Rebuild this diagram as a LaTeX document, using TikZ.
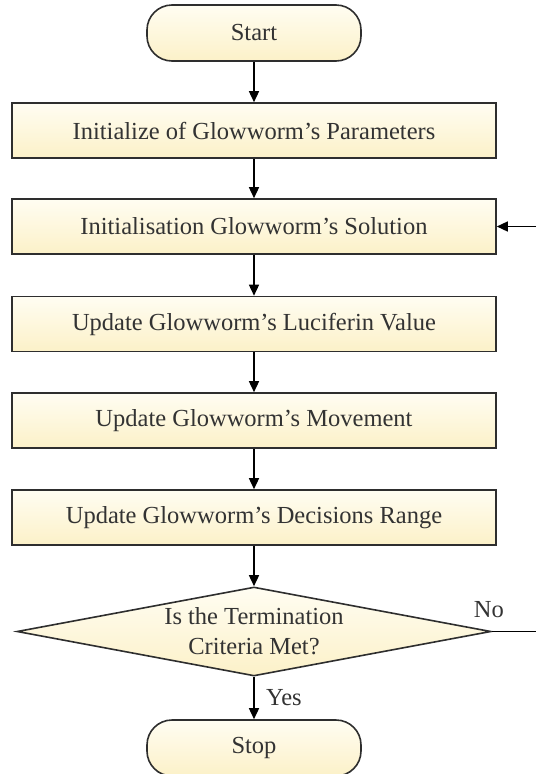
\documentclass[tikz,border=0pt]{standalone}
\usepackage{fontspec}
\setmainfont{Liberation Serif}
\usetikzlibrary{shapes.geometric,arrows.meta}

\definecolor{boxtop}{HTML}{FFFDF2}
\definecolor{boxbot}{HTML}{FCF1C8}
\definecolor{edge}{HTML}{2E2E2E}
\definecolor{ink}{HTML}{333333}

\tikzset{
  every node/.style={font=\fontsize{24.5}{30}\selectfont, text=ink},
  stepbox/.style={draw=edge, line width=1.6pt, top color=boxtop, bottom color=boxbot,
    minimum width=484pt, minimum height=55pt, inner sep=0pt},
  term/.style={stepbox, rounded corners=25pt, minimum width=214pt, minimum height=56pt},
  decide/.style={diamond, draw=edge, line width=1.6pt, top color=boxtop, bottom color=boxbot,
    minimum width=474pt, minimum height=89pt, inner sep=0pt, aspect=5.3, align=center},
  flow/.style={-{Triangle[length=11pt,width=10pt]}, line width=1.5pt, draw=black}
}

\begin{document}
\begin{tikzpicture}[x=1pt,y=1pt]
  \useasboundingbox (0,0) rectangle (536,-774);

  \node[term] (start) at (254,-33) {Start};
  \node[stepbox] (init) at (254,-130.5) {Initialize of Glowworm’s Parameters};
  \node[stepbox] (sol) at (254,-226.5) {Initialisation Glowworm’s Solution};
  \node[stepbox] (luci) at (254,-324) {Update Glowworm’s Luciferin Value};
  \node[stepbox] (move) at (254,-420.5) {Update Glowworm’s Movement};
  \node[stepbox] (range) at (254,-517.5) {Update Glowworm’s Decisions Range};
  \node[decide] (check) at (254,-631.5) {Is the Termination\\Criteria Met?};
  \node[term] (stop) at (254,-748) {Stop};

  \coordinate (noend) at (536,-631.5);
  \coordinate (back) at (536,-226.5);

  \draw[flow] (start.south) -- (init.north);
  \draw[flow] (init.south) -- (sol.north);
  \draw[flow] (sol.south) -- (luci.north);
  \draw[flow] (luci.south) -- (move.north);
  \draw[flow] (move.south) -- (range.north);
  \draw[flow] (range.south) -- (check.north);
  \draw[flow] (check.south) -- node[right=8pt] (yes) {Yes} (stop.north);
  \draw[line width=1.4pt] (check.east) -- node[above=10pt, pos=0, xshift=-3pt] (no) {No} (noend);
  \draw[flow] (back) -- (sol.east);
\end{tikzpicture}
\end{document}
